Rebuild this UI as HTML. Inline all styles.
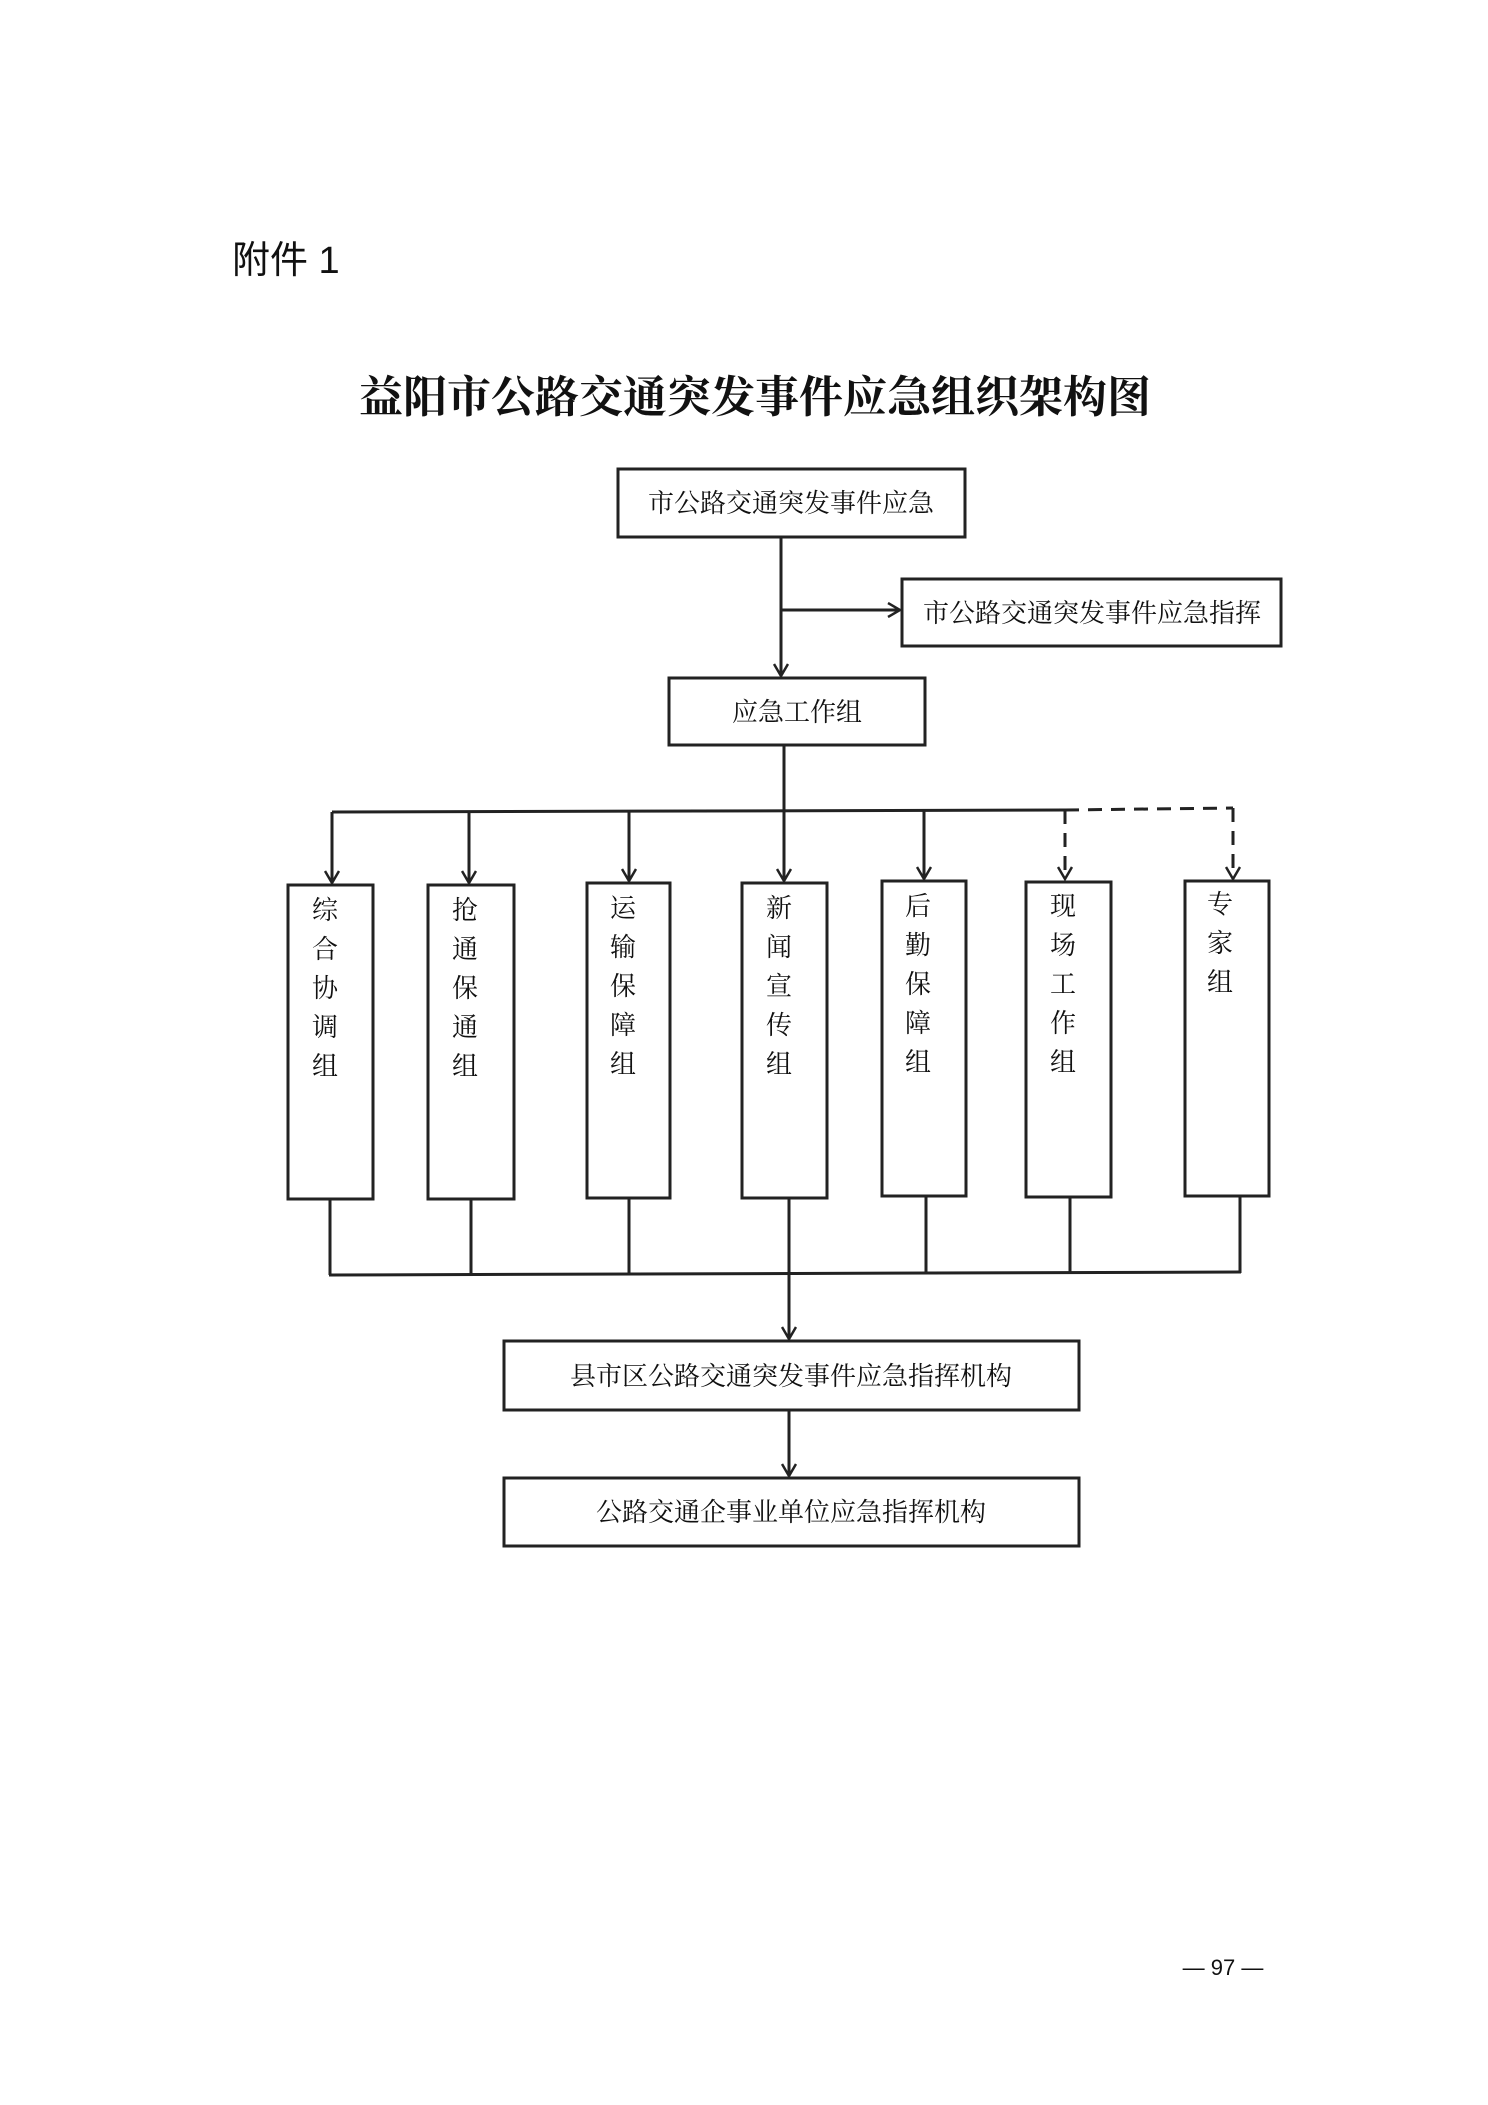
<!DOCTYPE html>
<html><head><meta charset="utf-8"><style>
html,body{margin:0;padding:0;background:#fff;}
svg{display:block;}
text{font-family:"Liberation Serif","Noto Serif CJK SC","Noto Sans CJK SC",serif;fill:#111;}
.s{font-family:"Liberation Sans","Noto Sans CJK SC",sans-serif;}
</style></head><body>
<svg width="1488" height="2105" viewBox="0 0 1488 2105" xmlns="http://www.w3.org/2000/svg">
<defs>
<marker id="r" markerWidth="16" markerHeight="16" refX="13" refY="8" orient="auto" markerUnits="userSpaceOnUse"><path d="M1,1 L13,8 L1,15" fill="none" stroke="#222" stroke-width="2.5"/></marker></defs>
<text x="232" y="273" font-size="38" class="s">附件 1</text>
<text x="755" y="412" font-size="44" font-weight="bold" text-anchor="middle" style="font-family:'Noto Serif CJK SC',serif">益阳市公路交通突发事件应急组织架构图</text>
<g fill="none" stroke="#222" stroke-width="3">
<rect x="618" y="469" width="347" height="68"/>
<rect x="902" y="579" width="379" height="67"/>
<rect x="669" y="678" width="256" height="67"/>
<rect x="504" y="1341" width="575" height="69"/>
<rect x="504" y="1478" width="575" height="68"/>
<line x1="781" y1="537" x2="781" y2="676" marker-end="url(#r)"/>
<line x1="781" y1="610" x2="900" y2="610" marker-end="url(#r)"/>
<line x1="784" y1="745" x2="784" y2="810"/>
<line x1="332" y1="812" x2="1065" y2="810"/>
<line x1="332" y1="812" x2="332" y2="883" marker-end="url(#r)"/>
<line x1="469" y1="812" x2="469" y2="883" marker-end="url(#r)"/>
<line x1="629" y1="811" x2="629" y2="881" marker-end="url(#r)"/>
<line x1="784" y1="810" x2="784" y2="881" marker-end="url(#r)"/>
<line x1="924" y1="810" x2="924" y2="879" marker-end="url(#r)"/>
<g stroke-dasharray="14,9"><line x1="1065" y1="810" x2="1233" y2="808"/><line x1="1065" y1="810" x2="1065" y2="879" marker-end="url(#r)"/><line x1="1233" y1="808" x2="1233" y2="879" marker-end="url(#r)"/></g>
<rect x="288" y="885" width="85" height="314"/>
<rect x="428" y="885" width="86" height="314"/>
<rect x="587" y="883" width="83" height="315"/>
<rect x="742" y="883" width="85" height="315"/>
<rect x="882" y="881" width="84" height="315"/>
<rect x="1026" y="882" width="85" height="315"/>
<rect x="1185" y="881" width="84" height="315"/>
<line x1="330" y1="1199" x2="330" y2="1275"/>
<line x1="471" y1="1199" x2="471" y2="1274"/>
<line x1="629" y1="1198" x2="629" y2="1274"/>
<line x1="789" y1="1198" x2="789" y2="1339" marker-end="url(#r)"/>
<line x1="926" y1="1196" x2="926" y2="1273"/>
<line x1="1070" y1="1197" x2="1070" y2="1273"/>
<line x1="1240" y1="1196" x2="1240" y2="1273"/>
<line x1="329" y1="1275" x2="1241" y2="1272"/>
<line x1="789" y1="1410" x2="789" y2="1476" marker-end="url(#r)"/>
</g>
<g font-size="26" text-anchor="middle">
<text x="791" y="512">市公路交通突发事件应急</text>
<text x="1092" y="622">市公路交通突发事件应急指挥</text>
<text x="797" y="721">应急工作组</text>
<text x="791" y="1385">县市区公路交通突发事件应急指挥机构</text>
<text x="791" y="1521">公路交通企事业单位应急指挥机构</text>
</g>
<g font-size="26" text-anchor="middle">
<text x="325" y="919">综</text><text x="325" y="958">合</text><text x="325" y="997">协</text><text x="325" y="1036">调</text><text x="325" y="1075">组</text>
<text x="465" y="919">抢</text><text x="465" y="958">通</text><text x="465" y="997">保</text><text x="465" y="1036">通</text><text x="465" y="1075">组</text>
<text x="623" y="917">运</text><text x="623" y="956">输</text><text x="623" y="995">保</text><text x="623" y="1034">障</text><text x="623" y="1073">组</text>
<text x="779" y="917">新</text><text x="779" y="956">闻</text><text x="779" y="995">宣</text><text x="779" y="1034">传</text><text x="779" y="1073">组</text>
<text x="918" y="915">后</text><text x="918" y="954">勤</text><text x="918" y="993">保</text><text x="918" y="1032">障</text><text x="918" y="1071">组</text>
<text x="1063" y="915">现</text><text x="1063" y="954">场</text><text x="1063" y="993">工</text><text x="1063" y="1032">作</text><text x="1063" y="1071">组</text>
<text x="1220" y="913">专</text><text x="1220" y="952">家</text><text x="1220" y="991">组</text>
</g>
<text x="1223" y="1975" font-size="22" text-anchor="middle" class="s">— 97 —</text>
</svg>
</body></html>
